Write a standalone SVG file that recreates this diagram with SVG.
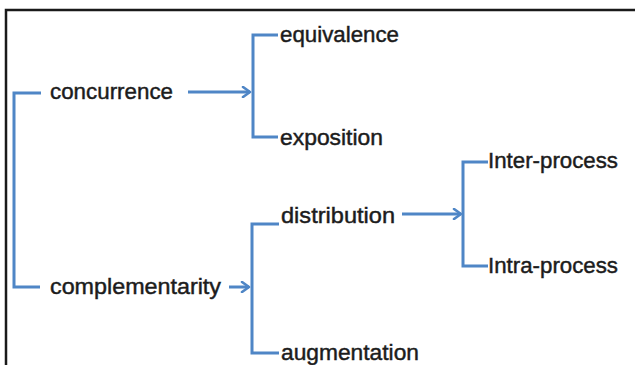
<svg xmlns="http://www.w3.org/2000/svg" width="635" height="365" viewBox="0 0 635 365">
  <defs>
    <marker id="chev" viewBox="0 0 12 12" refX="10" refY="6" markerWidth="12" markerHeight="12" markerUnits="userSpaceOnUse" orient="auto">
      <polyline points="3,1 10,6 3,11" fill="none" stroke="#4f86c6" stroke-width="2.6" stroke-linecap="round" stroke-linejoin="round"/>
    </marker>
  </defs>
  <style>
    .lbl { font-family: "Liberation Sans", Arial, sans-serif; font-size: 22.5px; fill: #1c1c1c; stroke: #1c1c1c; stroke-width: 0.45px; }
    .ln { fill: none; stroke: #4f86c6; stroke-width: 3; }
    .arr { fill: none; stroke: #4f86c6; stroke-width: 3; marker-end: url(#chev); }
    .frame { fill: none; stroke: #1a1a1a; stroke-width: 2.5; }
  </style>

  <rect width="635" height="365" fill="#ffffff"/>
  <!-- outer frame, open to the right and bottom edges -->
  <rect class="frame" x="6" y="10" width="700" height="420"/>

  <g id="connectors">
    <!-- root bracket -->
    <polyline class="ln" points="41,93 14,93 14,287 40,287"/>
    <!-- concurrence bracket -->
    <line class="arr" x1="188" y1="92" x2="250" y2="92"/>
    <polyline class="ln" points="278,35 253,35 253,137 278,137"/>
    <!-- complementarity bracket -->
    <line class="arr" x1="229" y1="287" x2="249" y2="287"/>
    <polyline class="ln" points="279,224 252,224 252,353 279,353"/>
    <!-- distribution bracket -->
    <line class="arr" x1="402" y1="214" x2="461" y2="214"/>
    <polyline class="ln" points="488,162 463,162 463,266 488,266"/>
  </g>

  <g id="concurrence"><text class="lbl" x="50" y="99" textLength="123" lengthAdjust="spacingAndGlyphs">concurrence</text></g>
  <g id="complementarity"><text class="lbl" x="50" y="294" textLength="171" lengthAdjust="spacingAndGlyphs">complementarity</text></g>
  <g id="equivalence"><text class="lbl" x="280" y="42" textLength="119" lengthAdjust="spacingAndGlyphs">equivalence</text></g>
  <g id="exposition"><text class="lbl" x="280" y="145" textLength="103" lengthAdjust="spacingAndGlyphs">exposition</text></g>
  <g id="distribution"><text class="lbl" x="281" y="223" textLength="114" lengthAdjust="spacingAndGlyphs">distribution</text></g>
  <g id="augmentation"><text class="lbl" x="281" y="360" textLength="138" lengthAdjust="spacingAndGlyphs">augmentation</text></g>
  <g id="inter-process"><text class="lbl" x="488" y="168" textLength="130" lengthAdjust="spacingAndGlyphs">Inter-process</text></g>
  <g id="intra-process"><text class="lbl" x="488" y="273" textLength="130" lengthAdjust="spacingAndGlyphs">Intra-process</text></g>
</svg>
